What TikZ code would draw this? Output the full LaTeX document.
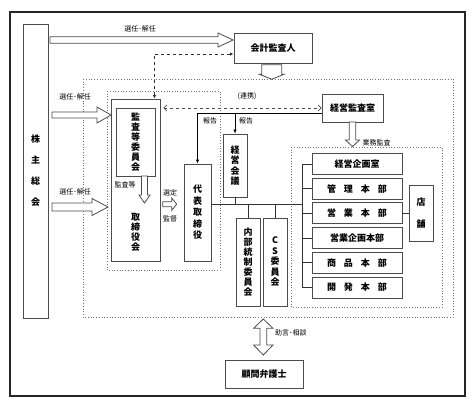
\documentclass[tikz,border=0pt]{standalone}
\usepackage{fontspec}
\setmainfont{Noto Sans CJK JP}
\usetikzlibrary{arrows.meta}
\tikzstyle{unit}=[fill=white,draw=black!70,line width=0.9pt,inner sep=0pt,align=center,font=\bfseries\fontsize{9}{10}\selectfont]
\tikzstyle{note}=[inner sep=1pt,font=\fontsize{7}{8}\selectfont]
\tikzstyle{hollow}=[fill=white,draw=black!70,line width=0.8pt,line join=miter]
\tikzstyle{frame}=[draw=black!55,dotted,line width=0.7pt]
\tikzstyle{link}=[draw=black!80,line width=0.8pt]
\tikzstyle{report}=[draw=black,line width=1pt,-{Latex[length=4pt,width=3.5pt]}]
\tikzstyle{cooperate}=[draw=black!70,dashed,line width=0.7pt,{Straight Barb[length=3pt,width=6pt]}-{Straight Barb[length=3pt,width=6pt]}]
\tikzstyle{auditlink}=[draw=black!80,dashed,line width=0.7pt,{Latex[length=3.5pt,width=3.5pt]}-{Latex[length=3.5pt,width=3.5pt]}]
% tail, angle, length, shaft half, head half, head length
\newcommand{\fatarrow}[6]{%
  \begin{scope}[shift={#1},rotate=#2]
    \draw[hollow] (0,#4) -- ({#3-#6},#4) -- ({#3-#6},#5) -- (#3,0) -- ({#3-#6},-#5) -- ({#3-#6},-#4) -- (0,-#4) -- cycle;
  \end{scope}}

\begin{document}
\begin{tikzpicture}[x=1pt,y=-1pt]
	\useasboundingbox (0,0) rectangle (474,408);
	\draw[line width=1.3pt,black!85] (10,12) rectangle (465,396);
	% dotted frames
	\draw[frame] (83,79) rectangle (453,317);
	\draw[frame] (107,91) rectangle (220,270);
	\draw[frame] (291,147) rectangle (442,307);

	\node[unit,minimum width=25pt,minimum height=294pt,font=\bfseries\fontsize{9}{21}\selectfont] (holders) at (35.5,171) {株\\主\\総\\会};
	\node[unit,minimum width=78pt,minimum height=30pt] (auditor) at (273,48) {会計監査人};
	\node[unit,minimum width=49pt,minimum height=162pt] (board) at (135.5,180) {};
	\node[font=\bfseries\fontsize{9}{10}\selectfont,align=center] (boardname) at (135.5,232) {取\\締\\役\\会};
	\node[unit,minimum width=39pt,minimum height=68pt] (committee) at (135.5,142) {監\\査\\等\\委\\員\\会};
	\node[unit,minimum width=27pt,minimum height=97pt,font=\bfseries\fontsize{9}{11.5}\selectfont] (ceo) at (197.5,212.5) {代\\表\\取\\締\\役};
	\node[unit,minimum width=24pt,minimum height=63pt,font=\bfseries\fontsize{9}{10.5}\selectfont] (mgmt) at (235,165.5) {経\\営\\会\\議};
	\node[unit,minimum width=24pt,minimum height=88pt] (ic) at (248,262) {内\\部\\統\\制\\委\\員\\会};
	\node[unit,minimum width=24pt,minimum height=88pt,font=\bfseries\fontsize{9}{10.5}\selectfont] (cs) at (275,262) {C\\S\\委\\員\\会};
	\node[unit,minimum width=61pt,minimum height=28pt] (office) at (352.5,108) {経営監査室};
	\foreach \txt [count=\i] in {経営企画室,管\hspace{8pt}理\hspace{8pt}本\hspace{8pt}部,営\hspace{8pt}業\hspace{8pt}本\hspace{8pt}部,営業企画本部,商\hspace{8pt}品\hspace{8pt}本\hspace{8pt}部,開\hspace{8pt}発\hspace{8pt}本\hspace{8pt}部}
		\node[unit,minimum width=90pt,minimum height=21pt] (div\i) at (357,{164+24.7*(\i-1)}) {\txt};
	\node[unit,minimum width=24pt,minimum height=56pt,font=\bfseries\fontsize{9}{22}\selectfont] (store) at (421,213) {店\\舗};
	\node[unit,minimum width=78pt,minimum height=28pt] (lawyer) at (264,374) {顧問弁護士};

	% hollow arrows
	\fatarrow{(50,40)}{0}{183}{3.3}{7}{15}
	\fatarrow{(52,115)}{0}{59}{3}{8}{14}
	\fatarrow{(52,207)}{0}{56}{4}{8.5}{16}
	\fatarrow{(271.7,64.7)}{-90}{14.5}{10}{12.5}{5}
	\fatarrow{(144.5,176)}{-90}{27}{3}{5.5}{8}
	\fatarrow{(162.7,204.2)}{0}{14}{2.5}{6.2}{5}
	\fatarrow{(352.5,122)}{-90}{24.5}{3.3}{7}{6.5}
	\draw[hollow] (263.3,319) -- (273,328.3) -- (266.7,328.3) -- (266.7,345) -- (273,345) -- (263.3,355) -- (253.6,345) -- (260,345) -- (260,328.3) -- (253.6,328.3) -- cycle;

	% connectors
	\coordinate (bus) at (302,204);
	\draw[link] (ceo.east |- bus) -- (bus);
	\draw[link] (div1.west -| bus) -- (div6.west -| bus);
	\foreach \i in {1,...,6}
		\draw[link] (div\i.west -| bus) -- (div\i.west);
	\draw[link] (mgmt.south) -- (mgmt.south |- bus);
	\draw[link] (ic.north) -- (ic.north |- bus);
	\draw[link] (cs.north) -- (cs.north |- bus);
	\draw[link] (div3.east) -- (div3.east -| store.west);
	\draw[report] ([yshift=-5pt]office.west) -| (ceo.north);
	\draw[report] ([yshift=-5pt]office.west) -| (mgmt.north);
	\draw[cooperate,shorten <=3pt] (board.east |- office.west) -- (office.west);
	\draw[auditlink] ([xshift=19pt]board.north) |- ([yshift=-6pt]auditor.west);

	% labels
	\node[note] (elect1) at (140,29) {選任･解任};
	\node[note] (elect2) at (75,97) {選任･解任};
	\node[note] (elect3) at (75,192) {選任･解任};
	\node[note] (audits) at (125,185) {監査等};
	\node[note] (choose) at (170,193) {選定};
	\node[note] (oversee) at (170,219) {監督};
	\node[note] (report1) at (210,121) {報告};
	\node[note] (report2) at (246,121) {報告};
	\node[note] (coop) at (247,96) {(連携)};
	\node[note] (bizaudit) at (376.5,143) {業務監査};
	\node[note,anchor=west] (advice) at (274,333) {助言･相談};
\end{tikzpicture}
\end{document}
